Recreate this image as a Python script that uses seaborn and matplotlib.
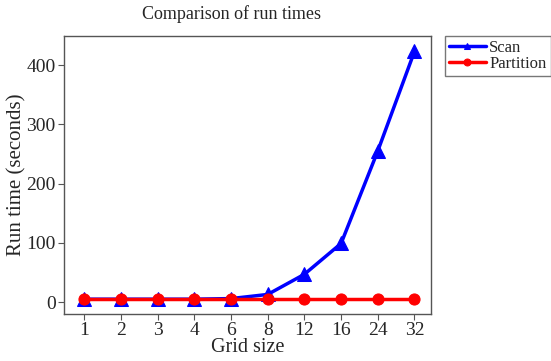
import matplotlib
matplotlib.use("Agg")
import matplotlib.pyplot as plt
import seaborn as sns
import pandas as pd

grid_sizes = ["1", "2", "3", "4", "6", "8", "12", "16", "24", "32"]
scan_times = [5, 5, 5, 5, 6, 13, 47, 99, 255, 423]
partition_times = [5, 5, 5, 5, 5, 5, 5, 5, 5, 5]

sns.set_style("ticks")
plt.rcParams['font.family'] = ['Liberation Serif', 'DejaVu Serif']

df = pd.DataFrame({
    "Grid size": grid_sizes * 2,
    "Run time": scan_times + partition_times,
    "Method": ["Scan"] * len(grid_sizes) + ["Partition"] * len(grid_sizes),
})

fig = plt.figure(figsize=(5.51, 3.61), dpi=100)
ax = fig.add_axes([64/551, 1 - 314/361, (431-64)/551, (314-36)/361])

sns.lineplot(data=df[df.Method == "Scan"], x="Grid size", y="Run time", sort=False,
             color="#0000ff", marker="^", markersize=10, linewidth=2.5,
             markeredgecolor="#0000ff", label="Scan", ax=ax)
sns.lineplot(data=df[df.Method == "Partition"], x="Grid size", y="Run time", sort=False,
             color="#ff0000", marker="o", markersize=8, linewidth=2.5,
             markeredgecolor="#ff0000", label="Partition", ax=ax)

ax.set_xlim(-0.55, 9.45)
ax.set_ylim(-20, 449)
ax.set_yticks([0, 100, 200, 300, 400])
ax.tick_params(axis='both', labelsize=14, direction='out', length=4, color='#555555', top=False, right=False, pad=2)
for s in ax.spines.values():
    s.set_color('#555555')
    s.set_linewidth(1.0)
ax.set_xlabel("Grid size", fontsize=14.5)
ax.set_ylabel("Run time (seconds)", fontsize=15)
ax.yaxis.set_label_coords((17 - 64) / 367, 0.5)
ax.xaxis.set_label_coords(0.5, -(348 - 314) / 278)
ax.xaxis.label.set_va('center')
ax.yaxis.label.set_va('center')
fig.text(232 / 551, 1 - 14 / 361, "Comparison of run times", ha='center', va='center', fontsize=13)

leg = ax.legend(loc='upper left', bbox_to_anchor=(1.038, 1.0), frameon=True, fontsize=12,
                fancybox=False, edgecolor='#555555', handlelength=2.2, handletextpad=0.2,
                borderpad=0.25, labelspacing=0.0, borderaxespad=0)
for h in leg.legend_handles:
    h.set_markersize(5)

fig.savefig("out.png", dpi=100)
